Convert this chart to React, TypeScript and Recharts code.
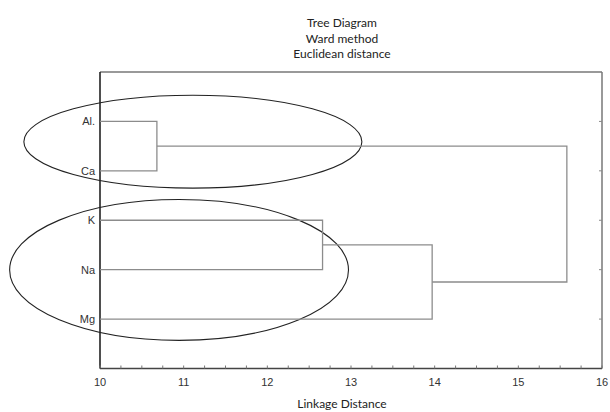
import React from 'react';
import {
    ComposedChart,
    Scatter,
    XAxis,
    YAxis,
    ReferenceArea,
} from 'recharts';

const W = 610;
const H = 412;

// leaves, top to bottom
const leaves = ['Al.', 'Ca', 'K', 'Na', 'Mg'];

// merges: node ids 0..4 are leaves, 5.. are the merges below in order
// 5 = Al.+Ca, 6 = K+Na, 7 = (K+Na)+Mg, 8 = all
const mergeA = [0, 2, 6, 5];
const mergeB = [1, 3, 4, 7];
const mergeDist = [10.68, 12.66, 13.97, 15.58];

const leafTicks = [1, 2, 3, 4, 5];
const majorTicks = [10, 11, 12, 13, 14, 15, 16];
const minorTicks = [
    10, 10.25, 10.5, 10.75, 11, 11.25, 11.5, 11.75, 12, 12.25, 12.5, 12.75,
    13, 13.25, 13.5, 13.75, 14, 14.25, 14.5, 14.75, 15, 15.25, 15.5, 15.75, 16,
];

// hand-drawn group ellipses (bounding box in data units)
const groupX1 = [9.09, 8.92];
const groupX2 = [13.13, 12.97];
const groupY1 = [0.47, 2.58];
const groupY2 = [2.35, 5.43];

const TITLE_FONT = 'Lato, "Open Sans", sans-serif';
const TICK_FONT = '"Liberation Sans", Arial, sans-serif';
const LINK_COLOR = '#8c8c8c';

function buildLinks() {
    const pos: number[] = leaves.map((_, i) => i + 1);
    const dist: number[] = leaves.map(() => 10);
    const links: { x: number; y: number }[][] = [];
    mergeDist.forEach((d, i) => {
        const a = mergeA[i];
        const b = mergeB[i];
        links.push([
            { x: dist[a], y: pos[a] },
            { x: d, y: pos[a] },
            { x: d, y: pos[b] },
            { x: dist[b], y: pos[b] },
        ]);
        pos.push((pos[a] + pos[b]) / 2);
        dist.push(d);
    });
    return links;
}

const BottomTick = (props: any) => {
    const { x, y, payload } = props;
    const v = payload.value;
    const major = majorTicks.includes(v);
    return (
        <g>
            <line x1={x} y1={y} x2={x} y2={y - 3} stroke="#777" strokeWidth={1} />
            {major && (
                <text x={x} y={y + 17} textAnchor="middle" fontSize={11}
                    fontFamily={TICK_FONT} fill="#333">
                    {v}
                </text>
            )}
        </g>
    );
};

const TopTick = (props: any) => {
    const { x, y } = props;
    return <line x1={x} y1={y} x2={x} y2={y + 3} stroke="#888" strokeWidth={1} />;
};

const LeafTick = (props: any) => {
    const { x, y, payload } = props;
    return (
        <text x={x - 5} y={y + 4} textAnchor="end" fontSize={11}
            fontFamily={TICK_FONT} fill="#333">
            {leaves[payload.value - 1]}
        </text>
    );
};

const RightTick = (props: any) => {
    const { x, y } = props;
    return <line x1={x} y1={y} x2={x - 3} y2={y} stroke="#888" strokeWidth={1} />;
};

const FrameShape = (props: any) => {
    const x = Math.min(props.x, props.x + props.width);
    const y = Math.min(props.y, props.y + props.height);
    const w = Math.abs(props.width);
    const h = Math.abs(props.height);
    return (
        <g fill="none">
            <line x1={x} y1={y} x2={x + w} y2={y} stroke="#777" strokeWidth={1.5} />
            <line x1={x + w} y1={y} x2={x + w} y2={y + h} stroke="#777" strokeWidth={1.5} />
            <line x1={x} y1={y + h} x2={x + w} y2={y + h} stroke="#444" strokeWidth={1.5} />
            <line x1={x} y1={y} x2={x} y2={y + h} stroke="#222" strokeWidth={1.6} />
        </g>
    );
};

const EllipseShape = (props: any) => {
    const w = Math.abs(props.width);
    const h = Math.abs(props.height);
    const x = Math.min(props.x, props.x + props.width);
    const y = Math.min(props.y, props.y + props.height);
    return (
        <ellipse cx={x + w / 2} cy={y + h / 2} rx={w / 2} ry={h / 2}
            fill="none" stroke="#222" strokeWidth={1.1} />
    );
};

export default function App() {
    const links = buildLinks();
    return (
        <div style={{ position: 'absolute', left: 0, top: 0, width: W, height: H, background: '#fff' }}>
            <div
                style={{
                    position: 'absolute', left: 192, top: 15, width: 300,
                    textAlign: 'center', fontFamily: TITLE_FONT, fontSize: 12,
                    lineHeight: '15.7px', color: '#222',
                }}
            >
                <div>Tree Diagram</div>
                <div>Ward method</div>
                <div>Euclidean distance</div>
            </div>
            <div
                style={{
                    position: 'absolute', left: 192, top: 397, width: 300,
                    textAlign: 'center', fontFamily: TITLE_FONT, fontSize: 12,
                    lineHeight: '14px', color: '#222',
                }}
            >
                Linkage Distance
            </div>
            <ComposedChart
                width={W}
                height={H}
                margin={{ top: 72, right: 0, bottom: 0, left: 0 }}
            >
                <XAxis
                    xAxisId="bottom"
                    type="number"
                    dataKey="x"
                    domain={[10, 16]}
                    allowDataOverflow
                    ticks={minorTicks}
                    interval={0}
                    tick={<BottomTick />}
                    tickLine={false}
                    axisLine={false}
                    tickSize={0}
                    tickMargin={0}
                    height={43.5}
                />
                <XAxis
                    xAxisId="top"
                    orientation="top"
                    type="number"
                    domain={[10, 16]}
                    allowDataOverflow
                    ticks={minorTicks}
                    interval={0}
                    tick={<TopTick />}
                    tickLine={false}
                    axisLine={false}
                    tickSize={0}
                    tickMargin={0}
                    height={0}
                />
                <YAxis
                    yAxisId="left"
                    type="number"
                    dataKey="y"
                    domain={[0, 6]}
                    reversed
                    allowDataOverflow
                    ticks={leafTicks}
                    interval={0}
                    tick={<LeafTick />}
                    tickLine={false}
                    axisLine={false}
                    tickSize={0}
                    tickMargin={0}
                    width={100}
                />
                <YAxis
                    yAxisId="right"
                    orientation="right"
                    type="number"
                    domain={[0, 6]}
                    reversed
                    allowDataOverflow
                    ticks={leafTicks}
                    interval={0}
                    tick={<RightTick />}
                    tickLine={false}
                    axisLine={false}
                    tickSize={0}
                    tickMargin={0}
                    width={8}
                />
                {links.map((pts, i) => (
                    <Scatter
                        key={i}
                        xAxisId="bottom"
                        yAxisId="left"
                        data={pts}
                        line={{ stroke: LINK_COLOR, strokeWidth: 1.3 }}
                        lineType="joint"
                        shape={() => <g />}
                        isAnimationActive={false}
                        legendType="none"
                    />
                ))}
                <ReferenceArea
                    xAxisId="bottom"
                    yAxisId="left"
                    x1={10}
                    x2={16}
                    y1={0}
                    y2={6}
                    ifOverflow="visible"
                    shape={<FrameShape />}
                />
                {groupX1.map((x1, i) => (
                    <ReferenceArea
                        key={i}
                        xAxisId="bottom"
                        yAxisId="left"
                        x1={x1}
                        x2={groupX2[i]}
                        y1={groupY1[i]}
                        y2={groupY2[i]}
                        ifOverflow="visible"
                        shape={<EllipseShape />}
                    />
                ))}
            </ComposedChart>
        </div>
    );
}
